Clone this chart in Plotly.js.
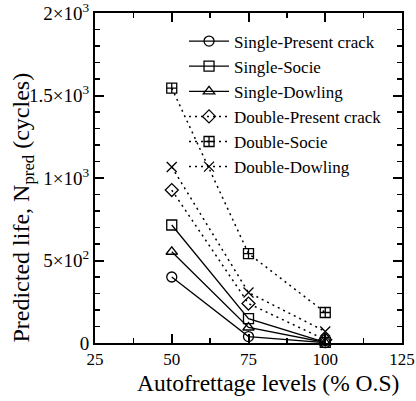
<!DOCTYPE html>
<html><head><meta charset="utf-8">
<script src="https://cdn.plot.ly/plotly-3.0.1.min.js"></script>
<style>html,body{margin:0;padding:0;background:#fff}</style>
</head><body><div id="chart" style="width:416px;height:401px"></div>
<script>
const levels = [50, 75, 100];
const seriesNames = ["Single-Present crack","Single-Socie","Single-Dowling","Double-Present crack","Double-Socie","Double-Dowling"];
const singlePresent = [400, 39, 2];
const singleSocie = [715, 148, 4];
const singleDowling = [553, 94, 3];
const doublePresent = [927, 239, 20];
const doubleSocie = [1545, 542, 185];
const doubleDowling = [1067, 306, 70];
const yTickVals = [0, 500, 1000, 1500, 2000];
const yTickText = ["0", "5×10<sup>2</sup>", "1×10<sup>3</sup>", "1.5×10<sup>3</sup>", "2×10<sup>3</sup>"];
const xTickVals = [25, 50, 75, 100, 125];
const xTitle = 'Autofrettage levels (% O.S)';
const yTitle = 'Predicted life, N<sub>pred</sub> (cycles)';

const values = [singlePresent, singleSocie, singleDowling, doublePresent, doubleSocie, doubleDowling];
const symbols = ["circle-open","square-open","triangle-up-open","diamond-open","square-cross-open","x-thin-open"];
const dashes = ["solid","solid","solid","2px,4px","2px,4px","2px,4px"];
const traces = values.map((v,i)=>({
  x: levels, y: v, name: seriesNames[i], type: 'scatter', mode: 'lines+markers',
  line: {color: '#000', width: i<3 ? 1.3 : 1.5, dash: dashes[i]},
  marker: {symbol: symbols[i], size: 10, color: '#000', line: {color: '#000', width: 1.3}},
  cliponaxis: false
}));
const FAM = 'Liberation Serif';
const layout = {
  width: 416, height: 401,
  margin: {l: 95, r: 14, t: 13, b: 58},
  paper_bgcolor: '#fff', plot_bgcolor: '#fff',
  font: {family: FAM, color: '#000', size: 18},
  showlegend: true,
  legend: {x: 0.29, y: 0.968, xanchor: 'left', yanchor: 'top', bgcolor: 'rgba(0,0,0,0)',
    font: {family: FAM, size: 17, color: '#000'}, tracegroupgap: 0, itemwidth: 40},
  xaxis: {range: [25, 125], tickvals: xTickVals, ticktext: xTickVals.map(String),
    ticks: 'inside', ticklen: 9, tickwidth: 2, tickcolor: '#000', ticklabeloverflow: 'allow',
    minor: {ticks: 'inside', dtick: 12.5, tick0: 25, ticklen: 5, tickwidth: 1.5, tickcolor: '#000'},
    showline: true, linewidth: 2, linecolor: '#000', mirror: 'allticks', showgrid: false, zeroline: false,
    tickfont: {family: FAM, size: 17}},
  yaxis: {range: [0, 2000], tickvals: yTickVals, ticktext: yTickText,
    ticks: 'inside', ticklen: 9, tickwidth: 2, tickcolor: '#000', ticklabeloverflow: 'allow',
    minor: {ticks: 'inside', dtick: 100, ticklen: 5, tickwidth: 1.5, tickcolor: '#000'},
    showline: true, linewidth: 2, linecolor: '#000', mirror: 'allticks', showgrid: false, zeroline: false,
    tickfont: {family: FAM, size: 19}},
  annotations: [
    {text: xTitle, xref: 'paper', yref: 'paper', x: 0.565, y: -0.122, xanchor: 'center', yanchor: 'middle',
     showarrow: false, font: {family: FAM, size: 23.5, color: '#000'}},
    {text: yTitle, xref: 'paper', yref: 'paper', x: -0.235, y: 0.41, xanchor: 'center', yanchor: 'middle',
     textangle: -90, showarrow: false, font: {family: FAM, size: 24, color: '#000'}}
  ]
};
Plotly.newPlot('chart', traces, layout, {staticPlot: true, displayModeBar: false});
</script></body></html>
